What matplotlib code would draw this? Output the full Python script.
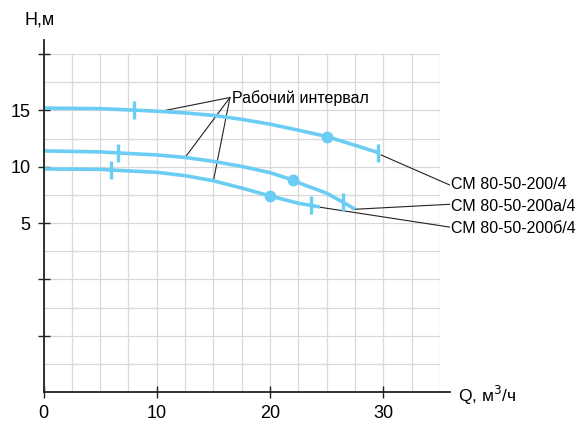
import matplotlib
matplotlib.use("Agg")
import matplotlib.pyplot as plt

plt.rcParams['font.family'] = ['Liberation Sans', 'DejaVu Sans']

# кривые H(Q), точки
q_200 = [0, 5, 8, 10, 12.5, 15, 17.5, 20, 22.5, 25, 27.5, 29.7]
h_200 = [15.2, 15.15, 15.02, 14.92, 14.77, 14.55, 14.2, 13.77, 13.24, 12.67, 11.9, 11.2]

q_200a = [0, 5, 6.6, 10, 12.5, 15, 17.5, 20, 22, 22.5, 25, 26.4, 27.5]
h_200a = [11.4, 11.31, 11.22, 11.04, 10.82, 10.47, 10.02, 9.47, 8.82, 8.58, 7.64, 6.87, 6.22]

q_200b = [0, 5, 6, 10, 12.5, 15, 17.5, 20, 22.5, 23.6, 24.4]
h_200b = [9.8, 9.76, 9.7, 9.5, 9.2, 8.75, 8.1, 7.4, 6.75, 6.57, 6.42]

# рабочий интервал (границы) и рабочая точка
ticks_q = [[8, 29.5], [6.6, 26.4], [6, 23.6]]
ticks_h = [[15.02, 11.25], [11.22, 6.87], [9.7, 6.57]]
dots_q = [25, 22, 20]
dots_h = [12.67, 8.82, 7.4]

names = ["СМ 80-50-200/4", "СМ 80-50-200а/4", "СМ 80-50-200б/4"]
name_y = [8.38, 6.48, 4.53]
leader_from = [(29.8, 11.04), (27.5, 6.22), (24.4, 6.4)]
leader_to_y = [8.38, 6.66, 4.64]

interval_pts = [(10.3, 14.9), (12.5, 10.82), (15.0, 8.75)]
interval_anchor = (16.46, 16.14)

blue = '#6ccdf4'

fig = plt.figure(figsize=(5.76, 4.24), dpi=100)
ax = fig.add_axes([43.5 / 576, 32 / 424, 396.5 / 576, 338 / 424])
ax.set_xlim(0, 35)
ax.set_ylim(-10, 20)

for s in ax.spines.values():
    s.set_visible(False)

# сетка через 2.5
gx = [i * 2.5 for i in range(15)]
gy = [-10 + i * 2.5 for i in range(13)]
ax.vlines(gx, -10, 20, color='#d9d9d9', lw=0.9, zorder=1)
ax.hlines(gy, 0, 35, color='#d9d9d9', lw=0.9, zorder=1)

ax.set_xticks([0, 10, 20, 30])
ax.set_xticklabels(['0', '10', '20', '30'])
ax.set_yticks([-5, 0, 5, 10, 15, 20])
ax.set_yticklabels(['', '', '5', '10', '15', ''])
ax.tick_params(direction='inout', length=9, width=1, color='#222222',
               labelsize=13, pad=5)

# оси
ax.plot([0, 0], [-10, 21.2], color='#222222', lw=1.3, clip_on=False, zorder=5)
ax.plot([0, 35.9], [-10, -10], color='#222222', lw=1.3, clip_on=False, zorder=5)

for q, h in [(q_200, h_200), (q_200a, h_200a), (q_200b, h_200b)]:
    ax.plot(q, h, color=blue, lw=2.6, solid_capstyle='butt', solid_joinstyle='round', zorder=4)
for tq, th in zip(ticks_q, ticks_h):
    ax.plot(tq, th, ls='none', marker='|', ms=13, mew=2.4, color=blue, zorder=4)
ax.plot(dots_q, dots_h, ls='none', marker='o', ms=7.5, color=blue, zorder=4)

# выноски
for (x0, y0) in interval_pts:
    ax.plot([x0, interval_anchor[0]], [y0, interval_anchor[1]], color='#222222', lw=0.8,
            clip_on=False, zorder=3)
ax.text(16.6, 16.1, "Рабочий интервал", fontsize=11.5, va='center', ha='left')

for (x0, y0), ty, yt, name in zip(leader_from, leader_to_y, name_y, names):
    ax.plot([x0, 35.84], [y0, ty], color='#222222', lw=0.8, clip_on=False, zorder=3)
    ax.text(35.93, yt, name, fontsize=11.5, va='center', ha='left', clip_on=False)

fig.text(25 / 576, 1 - 20 / 424, "H,м", fontsize=13, va='center', ha='left')
fig.text(458 / 576, 1 - 395 / 424, "Q, м$^3$/ч", fontsize=12.5, va='center', ha='left')

fig.savefig("out.png", dpi=100)
